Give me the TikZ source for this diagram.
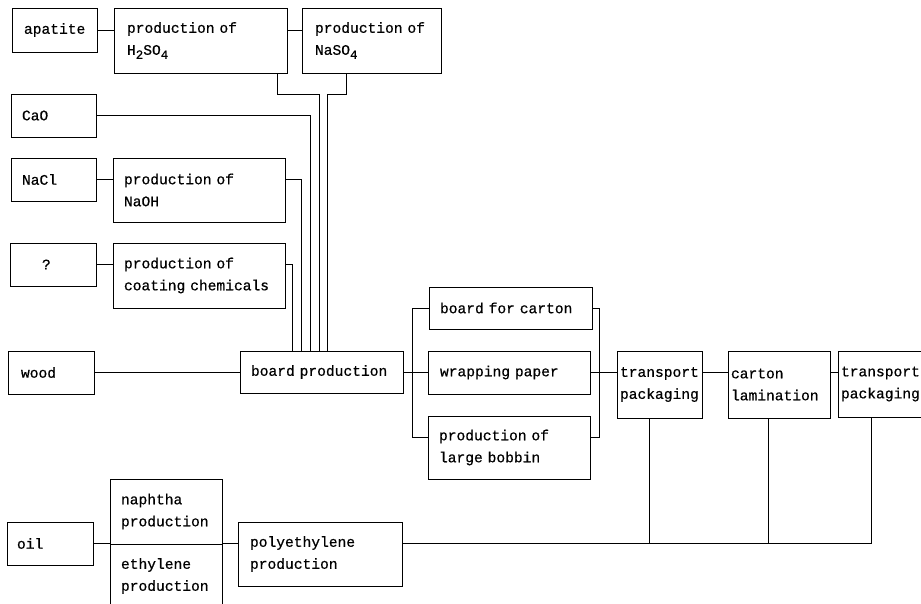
\documentclass[tikz,border=0pt]{standalone}
\usepackage{fontspec}
\newfontfamily\monof[FakeBold=0.6]{Liberation Mono}
\newcommand\subs[1]{\raisebox{-4pt}{\fontsize{12.5}{12.5}\selectfont #1}}
\tikzset{
  box/.style={draw, line width=0.9pt, rectangle, inner ysep=0pt, align=left,
    font=\monof\fontsize{14.6}{22}\selectfont},
  conn/.style={line width=0.9pt}
}
\newcommand\bx[7]{%
  \pgfmathsetmacro\bw{#4-#2}%
  \pgfmathsetmacro\bh{#5-#3}%
  \pgfmathsetmacro\tw{#4-#2-2*#6}%
  \node[box, minimum width=\bw pt, minimum height=\bh pt, text width=\tw pt,
        inner xsep=#6pt] (#1) at ({(#2+#4)/2},{(#3+#5)/2}) {#7};}
\begin{document}
\begin{tikzpicture}[x=1pt,y=-1pt]
\useasboundingbox (0,0) rectangle (921,604);
% boxes
\bx{apatite}{12}{8}{97}{52}{12}{apatite}
\bx{h2so4}{114}{8}{287}{73}{13}{production of\\H\subs{2}SO\subs{4}}
\bx{naso4}{302}{8}{441}{73}{13}{production of\\NaSO\subs{4}}
\bx{cao}{11}{94}{96}{137}{11}{CaO}
\bx{nacl}{11}{158}{96}{201}{11}{NaCl}
\bx{naoh}{113}{158}{285}{222}{11}{production of\\NaOH}
\bx{unk}{10}{243}{96}{286}{32}{?}
\bx{coat}{113}{243}{285}{308}{11}{production of\\coating chemicals}
\bx{wood}{8}{351}{94}{394}{13}{wood}
\bx{board}{240}{351}{403}{393}{11}{board production}
\bx{bfc}{429}{287}{592}{329}{11}{board for carton}
\bx{wrap}{428}{351}{590}{394}{12}{wrapping paper}
\bx{bobbin}{428}{416}{590}{479}{11}{production of\\large bobbin}
\bx{tpa}{617}{351}{702}{418}{3}{transport\\packaging}
\bx{carton}{728}{351}{830}{418}{3}{carton\\lamination}
\bx{tpb}{838}{351}{925}{417}{3}{transport\\packaging}
\bx{oil}{7}{522}{93}{565}{10}{oil}
\bx{naph}{110}{479}{222}{544}{11}{naphtha\\production}
\bx{eth}{110}{544}{222}{608}{11}{ethylene\\production}
\bx{poly}{238}{522}{402}{586}{12}{polyethylene\\production}
% helper coordinates
\coordinate (yA) at (0,30);
\coordinate (yB) at (0,94);
\coordinate (yM) at (0,372);
\coordinate (yT) at (0,308);
\coordinate (yL) at (0,437);
\coordinate (yO) at (0,543.5);
\coordinate (xH) at (277,0);
\coordinate (xHd) at (319,0);
\coordinate (xN) at (346,0);
\coordinate (xNd) at (327,0);
\coordinate (xC) at (310,0);
\coordinate (xO) at (301,0);
\coordinate (xK) at (292,0);
\coordinate (xL) at (412,0);
\coordinate (xR) at (599,0);
\coordinate (xP1) at (649,0);
\coordinate (xP2) at (768,0);
\coordinate (xP3) at (871,0);
% top row
\draw[conn] (apatite.east |- yA) -- (h2so4.west |- yA);
\draw[conn] (h2so4.east |- yA) -- (naso4.west |- yA);
% feeds into board production
\draw[conn] (h2so4.south -| xH) -- (xH |- yB) -- (xHd |- yB) -- (board.north -| xHd);
\draw[conn] (naso4.south -| xN) -- (xN |- yB) -- (xNd |- yB) -- (board.north -| xNd);
\draw[conn] (cao.east) -- (cao.east -| xC) -- (board.north -| xC);
\draw[conn] (nacl.east) -- (nacl.east -| naoh.west);
\draw[conn] (naoh.east |- nacl.east) -- (nacl.east -| xO) -- (board.north -| xO);
\draw[conn] (unk.east) -- (unk.east -| coat.west);
\draw[conn] (coat.east |- unk.east) -- (unk.east -| xK) -- (board.north -| xK);
\draw[conn] (wood.east |- yM) -- (board.west |- yM);
% branch
\draw[conn] (board.east |- yM) -- (wrap.west |- yM);
\draw[conn] (bfc.west |- yT) -- (xL |- yT) -- (xL |- yL) -- (bobbin.west |- yL);
\draw[conn] (bfc.east |- yT) -- (xR |- yT) -- (xR |- yL) -- (bobbin.east |- yL);
\draw[conn] (wrap.east |- yM) -- (tpa.west |- yM);
\draw[conn] (tpa.east |- yM) -- (carton.west |- yM);
\draw[conn] (carton.east |- yM) -- (tpb.west |- yM);
% oil chain
\draw[conn] (oil.east |- yO) -- (naph.west |- yO);
\draw[conn] (naph.east |- yO) -- (poly.west |- yO);
\draw[conn] (poly.east |- yO) -- (xP3 |- yO);
\draw[conn] (tpa.south -| xP1) -- (xP1 |- yO);
\draw[conn] (carton.south -| xP2) -- (xP2 |- yO);
\draw[conn] (tpb.south -| xP3) -- (xP3 |- yO);
\end{tikzpicture}
\end{document}
